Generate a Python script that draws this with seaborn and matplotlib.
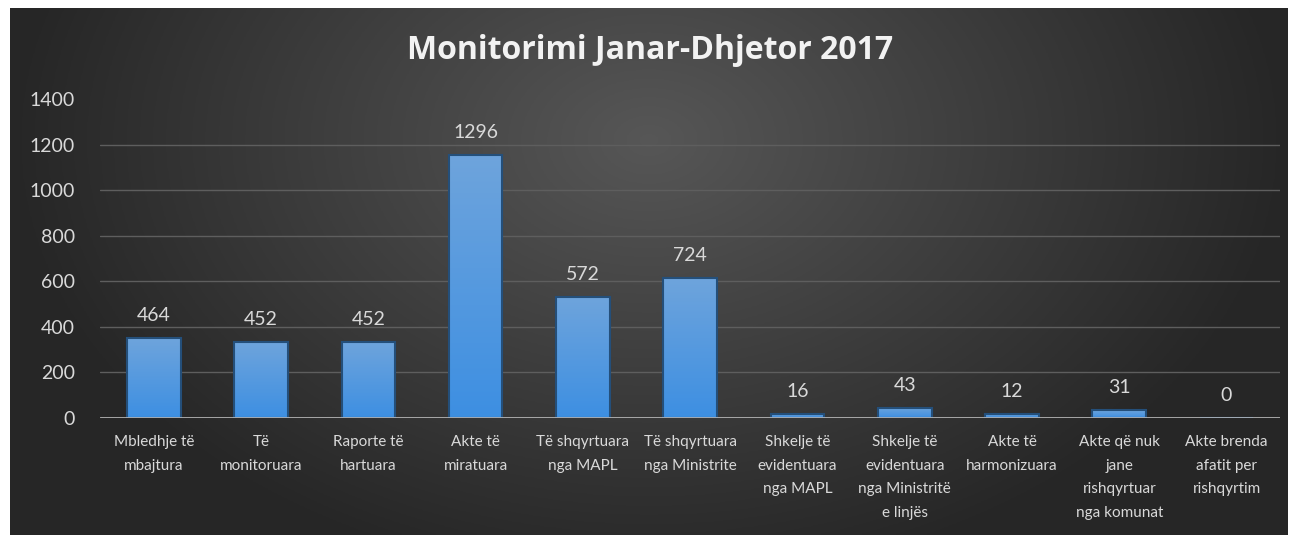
import numpy as np
import pandas as pd
import matplotlib
matplotlib.use("Agg")
import matplotlib.pyplot as plt
from matplotlib.colors import LinearSegmentedColormap
import seaborn as sns

# categories and values
categories = [
    "Mbledhje të\nmbajtura",
    "Të\nmonitoruara",
    "Raporte të\nhartuara",
    "Akte të\nmiratuara",
    "Të shqyrtuara\nnga MAPL",
    "Të shqyrtuara\nnga Ministrite",
    "Shkelje të\nevidentuara\nnga MAPL",
    "Shkelje të\nevidentuara\nnga Ministritë\ne linjës",
    "Akte të\nharmonizuara",
    "Akte që nuk\njane\nrishqyrtuar\nnga komunat",
    "Akte brenda\nafatit per\nrishqyrtim",
]
# bar heights as drawn in the picture
bar_heights = [351, 333, 333, 1153, 531, 614, 18, 44, 18, 35, 0]
# data labels as printed above the bars
bar_labels = ["464", "452", "452", "1296", "572", "724", "16", "43", "12", "31", "0"]
y_ticks = [0, 200, 400, 600, 800, 1000, 1200, 1400]

df = pd.DataFrame({"cat": categories, "val": bar_heights})

sns.set_style("dark")
plt.rcParams["font.family"] = ["Lato", "DejaVu Sans"]

fig = plt.figure(figsize=(13.01, 5.35), dpi=100, facecolor="white")

# dark radial background panel
bg = fig.add_axes([0.0077, 0.0, 0.982, 0.985])
gx, gy = np.meshgrid(np.linspace(-1, 1, 400), np.linspace(-1, 1, 200))
r = np.sqrt((gx / 1.0) ** 2 + ((gy + 0.5) / 1.7) ** 2)
shade = 0.34 - 0.19 * np.clip(r, 0, 1)
bg.imshow(np.dstack([shade] * 3), aspect="auto", extent=[0, 1, 0, 1], origin="upper")
bg.set_axis_off()

ax = fig.add_axes([0.077, 0.2187, 0.907, 0.5963])
ax.patch.set_alpha(0)

sns.barplot(data=df, x="cat", y="val", color="#5b9fe0", width=0.5,
            edgecolor="#244f7a", linewidth=1.5, saturation=1, ax=ax)

ax.set_ylim(0, 1400)
ax.set_xlim(-0.5, len(categories) - 0.5)

# vertical gradient inside each bar, outline kept on top
bar_cmap = LinearSegmentedColormap.from_list("barblue", ["#3d8fe2", "#6ea4dc"])
grad = np.linspace(0, 1, 256).reshape(-1, 1)
for p in ax.containers[0]:
    if p.get_height() <= 0:
        continue
    x0, w, h = p.get_x(), p.get_width(), p.get_height()
    im = ax.imshow(grad, cmap=bar_cmap, aspect="auto", origin="lower",
                   extent=[x0, x0 + w, 0, h], zorder=2)
    im.set_clip_path(p)
    p.set_facecolor("none")
    p.set_zorder(3)
ax.set_xlim(-0.5, len(categories) - 0.5)
ax.set_ylim(0, 1400)

ax.bar_label(ax.containers[0], labels=bar_labels, padding=10,
             color="#d9d9d9", fontsize=14)

ax.set_yticks(y_ticks)
ax.yaxis.grid(True, color="#5e5e5e", linewidth=1)
ax.xaxis.grid(False)
ax.get_ygridlines()[-1].set_visible(False)
ax.axhline(0, color="#c8c8c8", linewidth=1.8, zorder=5)

ax.tick_params(axis="y", colors="#d9d9d9", labelsize=14, length=0, pad=18)
ax.tick_params(axis="x", colors="#d9d9d9", labelsize=11, length=0, pad=12)
for t in ax.get_xticklabels():
    t.set_linespacing(1.9)
ax.set_xlabel("")
ax.set_ylabel("")
for s in ax.spines.values():
    s.set_visible(False)

fig.text(0.5, 0.905, "Monitorimi Janar-Dhjetor 2017", ha="center", va="center",
         color="#f2f2f2", fontsize=23, fontweight="bold", family="Open Sans")

fig.savefig("out.png", dpi=100, facecolor="white")
